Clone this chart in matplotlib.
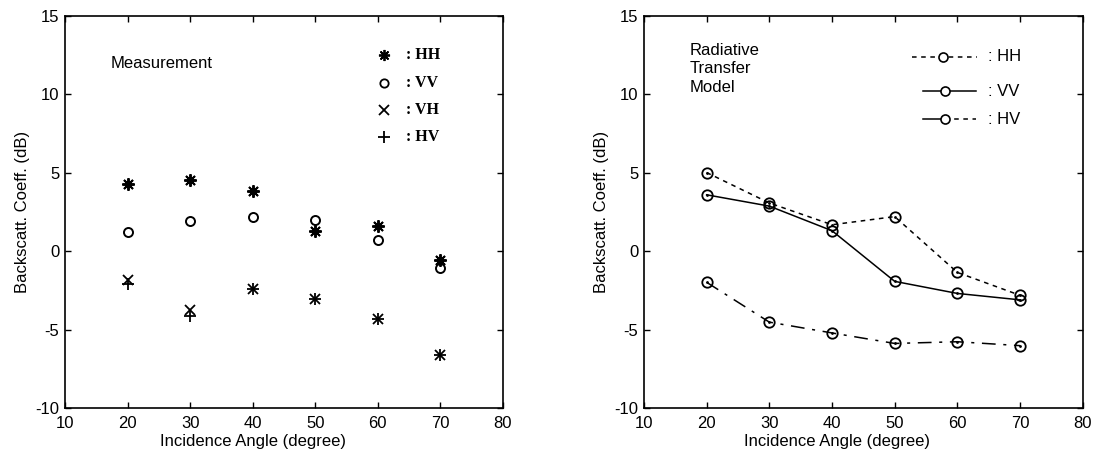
import matplotlib
matplotlib.use("Agg")
import matplotlib.pyplot as plt

plt.rcParams['font.family'] = ['Liberation Sans', 'DejaVu Sans']
plt.rcParams['axes.unicode_minus'] = False

angles = [20, 30, 40, 50, 60, 70]

# Measurement (left panel)
meas_hh = [4.26, 4.54, 3.84, 1.27, 1.62, -0.53]
meas_vv = [1.22, 1.94, 2.19, 1.98, 0.74, -1.05]
meas_vh = [-1.84, -3.76, -2.38, -3.06, -4.32, -6.6]
meas_hv = [-2.11, -4.11, -2.38, -3.06, -4.32, -6.6]

# Radiative transfer model (right panel)
model_hh = [5.02, 3.08, 1.69, 2.21, -1.35, -2.81]
model_vv = [3.6, 2.88, 1.31, -1.92, -2.69, -3.1]
model_hv = [-1.98, -4.52, -5.21, -5.88, -5.77, -6.02]

xticks = [10, 20, 30, 40, 50, 60, 70, 80]
yticks = [-10, -5, 0, 5, 10, 15]
xlabel = "Incidence Angle (degree)"
ylabel = "Backscatt. Coeff. (dB)"

fig = plt.figure(figsize=(10.97, 4.59), dpi=100)
axL = fig.add_axes([0.0593, 0.111, 0.399, 0.854])
axR = fig.add_axes([0.587, 0.111, 0.400, 0.854])

for ax, xlab_pos in ((axL, 0.43), (axR, 0.44)):
    ax.set_xlim(10, 80)
    ax.set_ylim(-10, 15)
    ax.set_xticks(xticks)
    ax.set_yticks(yticks)
    ax.tick_params(direction='in', top=True, right=True, length=4, width=1,
                   labelsize=12)
    ax.tick_params(axis='x', pad=6)
    ax.tick_params(axis='y', pad=4)
    for s in ax.spines.values():
        s.set_linewidth(1.2)
    ax.set_xlabel(xlabel, fontsize=12, labelpad=2, x=xlab_pos)
    ax.set_ylabel(ylabel, fontsize=12, labelpad=4)

STAR = (8, 2, 0)

# Left panel markers
mk = dict(color='black', linestyle='none')
axL.plot(angles, meas_hh, marker=STAR, markersize=9, markeredgewidth=1.4, **mk)
axL.plot(angles, meas_vv, marker='o', markersize=6.5, markerfacecolor='none',
         markeredgewidth=1.4, **mk)
axL.plot(angles, meas_vh, marker='x', markersize=7.5, markeredgewidth=1.3, **mk)
axL.plot(angles, meas_hv, marker='+', markersize=9, markeredgewidth=1.3, **mk)

axL.text(17.3, 12.0, "Measurement", fontsize=12, va='center', ha='left')
leg_rows = [(12.51, STAR, 8, 'HH'), (10.73, 'o', 6, 'VV'),
            (9.0, 'x', 7, 'VH'), (7.28, '+', 8, 'HV')]
for y, m, ms, lab in leg_rows:
    axL.plot([61.0], [y], marker=m, markersize=ms, markeredgewidth=1.3,
             markerfacecolor='none', color='black', linestyle='none')
    axL.text(64.5, y, ": " + lab, fontsize=11.5, va='center', ha='left',
             family=['Liberation Serif', 'DejaVu Serif'], fontweight='bold')

# Right panel lines
HH_LS = (0, (3, 3))
HV_LS = (0, (9, 5, 2, 5))
lk = dict(color='black', marker='o', markersize=7.5, markerfacecolor='none',
          markeredgewidth=1.3, linewidth=1.1)
axR.plot(angles, model_hh, linestyle=HH_LS, **lk)
axR.plot(angles, model_vv, linestyle='-', **lk)
axR.plot(angles, model_hv, linestyle=HV_LS, **lk)
for series in (model_hh, model_vv, model_hv):
    axR.plot(angles, series, linestyle='none', marker='.', markersize=2, color='black')

axR.text(17.3, 13.3, "Radiative\nTransfer\nModel", fontsize=12, va='top',
         ha='left', linespacing=1.3)

# legend samples: (y, style, line start, line end, marker x, label, text x)
rows = [(12.39, HH_LS, 52.7, 63.1, 57.7, 'HH', 64.9),
        (10.22, '-', 54.5, 63.0, 58.0, 'VV', 64.9),
        (8.43, None, 54.5, 63.0, 58.1, 'HV', 64.9)]
for y, ls, x0, x1, xm, lab, xt in rows:
    if ls is None:
        axR.plot([x0, xm], [y, y], linestyle='-', color='black', linewidth=1.1)
        axR.plot([xm, x1], [y, y], linestyle=(0, (3, 3)), color='black', linewidth=1.1)
    else:
        axR.plot([x0, x1], [y, y], linestyle=ls, color='black', linewidth=1.1)
    axR.plot([xm], [y], marker='o', markersize=6.5, markerfacecolor='white',
             markeredgewidth=1.2, color='black')
    axR.text(xt, y, ": " + lab, fontsize=12, va='center', ha='left')

fig.savefig("out.png", dpi=100)
